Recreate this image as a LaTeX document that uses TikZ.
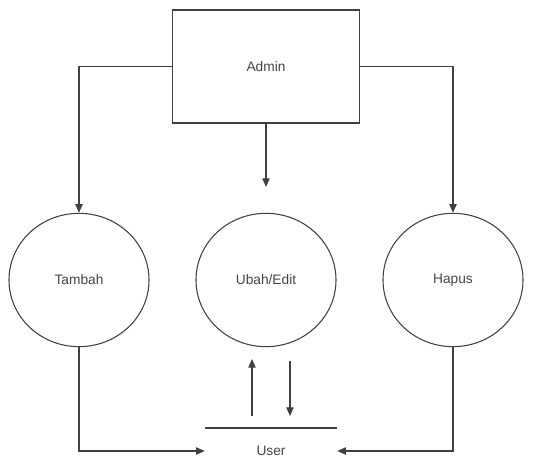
\documentclass[tikz,border=0pt]{standalone}
\usepackage{fontspec}
\setmainfont{Liberation Sans}
\usetikzlibrary{arrows.meta,shapes.geometric}

\definecolor{linegray}{HTML}{404040}
\definecolor{textgray}{HTML}{444444}

\tikzset{
    proc/.style={ellipse, draw=linegray, line width=0.8pt, minimum width=105pt, minimum height=100pt, inner sep=0pt, text=textgray},
    entity/.style={rectangle, draw=linegray, line width=0.8pt, minimum width=140pt, minimum height=84.75pt, inner sep=0pt, text=textgray},
    arr/.style={-{Triangle[length=6.5pt,width=5.5pt]}, draw=linegray, line width=0.8pt},
    plain/.style={draw=linegray, line width=0.8pt}
}

\begin{document}
\begin{tikzpicture}[x=0.75pt, y=-0.75pt, font=\fontsize{10.3}{12}\selectfont]
        \useasboundingbox (0,0) rectangle (539,470);
        % entity
        \node[entity] (admin) at (266,66.5) {Admin};
        % processes
        \node[proc] (tambah) at (79,280) {Tambah};
        \node[proc] (ubah) at (266,280) {Ubah/Edit};
        \node[proc] (hapus) at (453,280) {Hapus};
        % data store
        \node[text=textgray, minimum width=99pt, inner sep=0pt] (user) at (271,451) {User};
        \coordinate (storeL) at (205,428);
        \coordinate (storeR) at (337,428);
        \draw[plain] (storeL) -- (storeR);
        % helper points
        \coordinate (ubahIn) at (266,187);
        \coordinate (upFrom) at (252,416);
        \coordinate (upTo) at (252,359);
        \coordinate (downFrom) at (290,361);
        \coordinate (downTo) at (290,416);
        % flows
        \draw[arr] (admin.west) -| (tambah.north);
        \draw[arr] (admin.east) -| (hapus.north);
        \draw[arr] (admin.south) -- (ubahIn);
        \draw[arr] (upFrom) -- (upTo);
        \draw[arr] (downFrom) -- (downTo);
        \draw[arr] (tambah.south) |- (user.west);
        \draw[arr] (hapus.south) |- (user.east);
    \end{tikzpicture}
\end{document}
